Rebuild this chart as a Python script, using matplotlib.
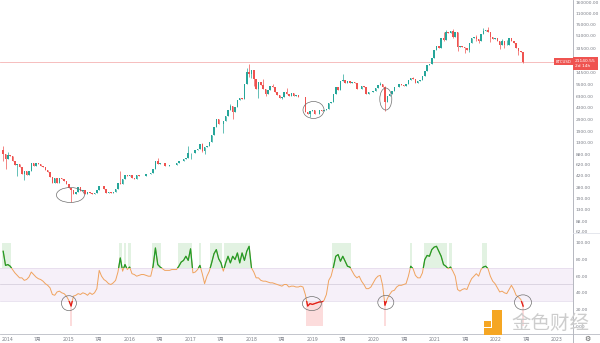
import matplotlib

matplotlib.use("Agg")
import matplotlib.pyplot as plt
import matplotlib.dates as mdates
import matplotlib.transforms as mtransforms
from matplotlib.lines import Line2D
from matplotlib.patches import Ellipse, Rectangle
from matplotlib.ticker import FixedLocator, FuncFormatter, NullLocator, NullFormatter
import numpy as np
import pandas as pd

plt.rcParams["font.family"] = ["DejaVu Sans", "Noto Sans CJK SC"]

# --- data: BTCUSD, two-week candles (log price axis) ---
symbol = "BTCUSD"
start_date = "2013-12-02"
first_open = 1000
closes = [
    870, 740, 860, 820, 690, 600, 620, 570, 450, 490, 430, 490, 650, 590, 640, 620,
    590, 570, 510, 475, 400, 330, 385, 325, 385, 375, 350, 315, 270, 255, 225, 240,
    285, 245, 255, 225, 240, 233, 225, 233, 252, 290, 293, 265, 230, 240, 230, 240,
    265, 325, 320, 370, 435, 420, 435, 390, 375, 435, 410, 410, 420, 450, 450, 455,
    530, 700, 630, 650, 655, 590, 580, 605, 610, 610, 640, 700, 700, 735, 770, 900,
    900, 920, 1020, 1060, 1230, 970, 1110, 1180, 1350, 1720, 2200, 2950, 2500, 2500, 2750, 3250,
    4050, 4600, 3700, 4400, 5700, 6150, 5900, 9700, 15000, 14000, 16000, 11500, 8200, 10400, 9500, 8200,
    7000, 8100, 9250, 8700, 7350, 6700, 6150, 6350, 7400, 7000, 6500, 7300, 6500, 6600, 6300, 6350,
    6350, 3800, 3550, 3900, 4000, 3550, 3450, 3950, 3850, 4000, 4150, 5150, 5300, 7000, 8700, 8000,
    10800, 11400, 10300, 10900, 10300, 10400, 10300, 8300, 8300, 9200, 8700, 7050, 7500, 7500, 7750, 8650,
    9300, 9900, 8900, 5350, 6400, 6900, 7700, 8700, 8900, 9700, 9350, 9100, 9700, 11100, 11900, 11650,
    10300, 10700, 11400, 13000, 15500, 18500, 19200, 23800, 32000, 36000, 34300, 48000, 45000, 59000, 55800, 60000,
    49000, 58300, 34800, 35800, 35500, 34200, 31800, 39900, 47000, 48800, 46000, 43200, 54700, 61000, 63300, 58700,
    49300, 46700, 47300, 43100, 37900, 42200, 37700, 37800, 46800, 42200, 39500, 34000, 30300, 29900, 21140.55,
]
# notable wick extremes (candle index -> price)
wick_high = {0: 1160, 1: 800, 2: 960, 50: 500, 66: 780, 79: 1150, 85: 1300, 97: 4980,
             104: 17200, 105: 19700, 111: 11700, 115: 9900, 121: 8500, 145: 13800,
             161: 10500, 163: 9200, 175: 12400, 188: 58300, 189: 61700, 192: 64800,
             202: 52900, 205: 67000, 207: 69000, 213: 45800, 215: 45000, 217: 48200}
wick_low = {0: 690, 1: 520, 6: 410, 9: 360, 29: 170, 80: 750, 85: 940, 86: 890,
            94: 1830, 98: 2970, 105: 12500, 106: 12000, 107: 9000, 109: 6000, 112: 6500,
            119: 5800, 131: 3150, 163: 3850, 188: 43000, 192: 47000, 194: 30000,
            197: 28800, 199: 29300, 202: 43000, 203: 40700, 208: 42000, 212: 33000,
            214: 34300, 220: 26700, 222: 20000}

rsi = [
    90, 73, 74, 72, 68, 64, 61, 58, 58, 55, 56, 59, 65, 62, 59, 57,
    56, 54, 51, 49, 46, 38, 37, 41, 42, 40, 39, 36, 31, 24, 36, 37,
    39, 38, 40, 39, 37, 40, 38, 40, 45, 67, 60, 56, 54, 51, 50, 52,
    55, 65, 82, 66, 74, 68, 71, 63, 62, 60, 61, 62, 62, 61, 60, 60,
    72, 94, 74, 71, 69, 67, 67, 67, 68, 68, 68, 72, 77, 79, 84, 79,
    93, 64, 65, 68, 73, 63, 51, 60, 66, 76, 87, 92, 81, 76, 66, 76,
    84, 76, 84, 80, 88, 76, 88, 79, 90, 96, 70, 65, 58, 58, 55, 54,
    54, 53, 52, 52, 51, 50, 49, 48, 50, 50, 47, 48, 48, 47, 47, 48,
    47, 38, 24, 27, 26, 27, 28, 29, 29, 31, 38, 55, 60, 71, 84, 86,
    78, 84, 78, 72, 71, 66, 61, 58, 60, 54, 50, 45, 45, 47, 52, 57,
    60, 61, 49, 25, 33, 38, 42, 43, 47, 49, 49, 50, 51, 60, 72, 69,
    61, 58, 58, 64, 80, 85, 84, 92, 95, 96, 90, 84, 74, 72, 69, 71,
    66, 60, 44, 42, 44, 45, 44, 51, 57, 60, 63, 60, 68, 71, 72, 69,
    60, 54, 51, 46, 41, 42, 40, 39, 44, 49, 44, 37, 35, 32, 24,
]

price_ticks = [160000, 110000, 75000, 51000, 33500, 14500, 9500, 6300, 4300, 2900,
               1900, 1300, 880, 620, 420, 280, 190, 130, 88, 62]
rsi_ticks = [100, 80, 60, 40, 20, 0]
year_labels = list(range(2014, 2024))
time_left = "2d 14h"

# hand-drawn circles on the screenshot: (date, value, width px, height px)
price_rings = [("2015-01-15", 216, 28, 15), ("2019-01-07", 4010, 21, 17), ("2020-03-14", 5840, 12, 22)]
rsi_rings = [("2015-01-06", 27.5, 15, 15), ("2018-12-28", 27, 19, 14),
             ("2020-03-14", 28.5, 16, 14), ("2022-06-12", 28.5, 17, 15)]

UP, DOWN = "#26a69a", "#ef5350"
TXT = "#7a7d86"
AXIS = "#a9acb5"

W, H = 600.0, 343.0
fig = plt.figure(figsize=(W / 100, H / 100), dpi=100)


def px_box(x0, y0, x1, y1):
    return [x0 / W, 1 - y1 / H, (x1 - x0) / W, (y1 - y0) / H]


ax = fig.add_axes(px_box(0, 0, 573, 233))
ax2 = fig.add_axes(px_box(0, 233, 573, 333.5), sharex=ax)

# candles
dates = pd.date_range(start_date, periods=len(closes), freq="14D") + pd.Timedelta(days=7)
x = mdates.date2num(dates)
o = np.array([first_open] + closes[:-1], float)
c = np.array(closes, float)
hi = np.maximum(o, c)
lo = np.minimum(o, c)
for i, v in wick_high.items():
    hi[i] = max(hi[i], v)
for i, v in wick_low.items():
    lo[i] = min(lo[i], v)
cols = np.where(c >= o, UP, DOWN)
ax.vlines(x, lo, hi, colors=cols, lw=0.5, zorder=2)
ax.bar(x, np.abs(c - o), bottom=np.minimum(o, c), width=9, color=cols, lw=0, zorder=3)

ax.set_yscale("log")
ax.set_ylim(58.5, 175500)
ax.set_xlim(pd.Timestamp("2013-11-20"), pd.Timestamp("2023-04-07"))
ax.axhline(closes[-1], color="#f5b3b3", lw=0.6, zorder=1)

# last price labels
trans = mtransforms.blended_transform_factory(ax.transAxes, ax.transData)
ax.text(1.0, closes[-1], f"{closes[-1]:.2f}\n{time_left}",
        transform=mtransforms.offset_copy(trans, fig, x=1.4, y=2.0, units="points"),
        ha="left", va="top", fontsize=3.2, color="white", linespacing=1.35,
        bbox=dict(boxstyle="square,pad=0.5", fc=DOWN, ec="none"), clip_on=False, zorder=10)
ax.text(1.0, closes[-1], symbol,
        transform=mtransforms.offset_copy(trans, fig, x=-1.3, y=0, units="points"),
        ha="right", va="center", fontsize=2.8, color="white",
        bbox=dict(boxstyle="square,pad=0.35", fc=DOWN, ec="none"), clip_on=False, zorder=10)

# RSI pane
r = np.array(rsi, float)
ax2.axhspan(30, 70, color="#f6f0f9", lw=0, zorder=0)
ax2.bar(x[r > 70], 30, bottom=70, width=14.5, color="#e2f2e2", lw=0, zorder=0.5)
ax2.bar(x[r < 30], 30, bottom=0, width=14.5, color="#fcdcdc", lw=0, zorder=0.5)
for lvl, col in ((70, "#e2d9ea"), (50, "#d2cad8"), (30, "#e2d9ea")):
    ax2.axhline(lvl, color=col, lw=0.5, zorder=1)
ax2.plot(x, r, color="#f0a35e", lw=0.7, zorder=2)
for y0, y1, col in ((70, 200, "#1e9e2a"), (-100, 30, "#e31b1b")):
    ln, = ax2.plot(x, r, color=col, lw=0.9, zorder=3)
    ln.set_clip_path(Rectangle((x[0] - 400, y0), x[-1] - x[0] + 800, y1 - y0, transform=ax2.transData))
ax2.set_ylim(-9, 112)

# circles
def ring(axis, date, value, w, h):
    tr = fig.dpi_scale_trans + mtransforms.ScaledTranslation(
        mdates.datestr2num(date), value, axis.transData)
    axis.add_patch(Ellipse((0, 0), w / 100, h / 100, transform=tr, fill=False,
                           ec="#6f6f6f", lw=0.5, zorder=6))


for d, v, w, h in price_rings:
    ring(ax, d, v, w, h)
for d, v, w, h in rsi_rings:
    ring(ax2, d, v, w, h)

# axes cosmetics
for a in (ax, ax2):
    a.yaxis.tick_right()
    a.tick_params(axis="y", length=0, pad=2, labelsize=3.2, labelcolor=TXT)
    a.spines["top"].set_visible(False)
    a.spines["left"].set_visible(False)
    a.spines["right"].set_color(AXIS)
    a.spines["right"].set_linewidth(0.6)
    a.set_facecolor("white")
ax.spines["bottom"].set_color("#e1e3ea")
ax.spines["bottom"].set_linewidth(0.6)
ax2.spines["bottom"].set_color("#b9bcc4")
ax2.spines["bottom"].set_linewidth(0.6)

ax.yaxis.set_major_locator(FixedLocator(price_ticks))
ax.yaxis.set_major_formatter(FuncFormatter(lambda v, p: f"{v:.2f}"))
ax.yaxis.set_minor_locator(NullLocator())
ax.yaxis.set_minor_formatter(NullFormatter())
ax2.yaxis.set_major_locator(FixedLocator(rsi_ticks))
ax2.yaxis.set_major_formatter(FuncFormatter(lambda v, p: f"{v:.2f}"))

xt, xl = [], []
for yr in year_labels:
    xt.append(pd.Timestamp(f"{yr}-01-01"))
    xl.append(str(yr))
    if yr < year_labels[-1]:
        xt.append(pd.Timestamp(f"{yr}-07-01"))
        xl.append("7月")
ax2.set_xticks(mdates.date2num(xt))
ax2.set_xticklabels(xl)
ax2.tick_params(axis="x", length=0, pad=2.5, labelsize=3.3, labelcolor=TXT)
ax.tick_params(axis="x", length=0, labelbottom=False)

# frame lines continuing into the price-scale column
fig.add_artist(Line2D([573 / W, 573 / W], [0, 1 - 333.5 / H], color=AXIS, lw=0.6))
fig.add_artist(Line2D([573 / W, 1], [1 - 233 / H] * 2, color="#e1e3ea", lw=0.6))
fig.add_artist(Line2D([573 / W, 1], [1 - 333.5 / H] * 2, color="#b9bcc4", lw=0.6))
fig.text(587 / W, 1 - 338.5 / H, "⚙", fontsize=5, color="#555555", ha="center", va="center")

# watermark
for bx in ((484, 321, 491, 327), (492, 310, 502, 330), (484, 328, 502, 335)):
    fig.add_artist(Rectangle((bx[0] / W, 1 - bx[3] / H), (bx[2] - bx[0]) / W, (bx[3] - bx[1]) / H,
                             transform=fig.transFigure, color="#f5a623", lw=0, zorder=20))
fig.text(550 / W, 1 - 323 / H, "金色财经", fontsize=14, color="#cdcdcd", ha="center", va="center",
         family=["Noto Sans CJK SC", "DejaVu Sans"], zorder=20)

fig.savefig("out.png", dpi=100)
